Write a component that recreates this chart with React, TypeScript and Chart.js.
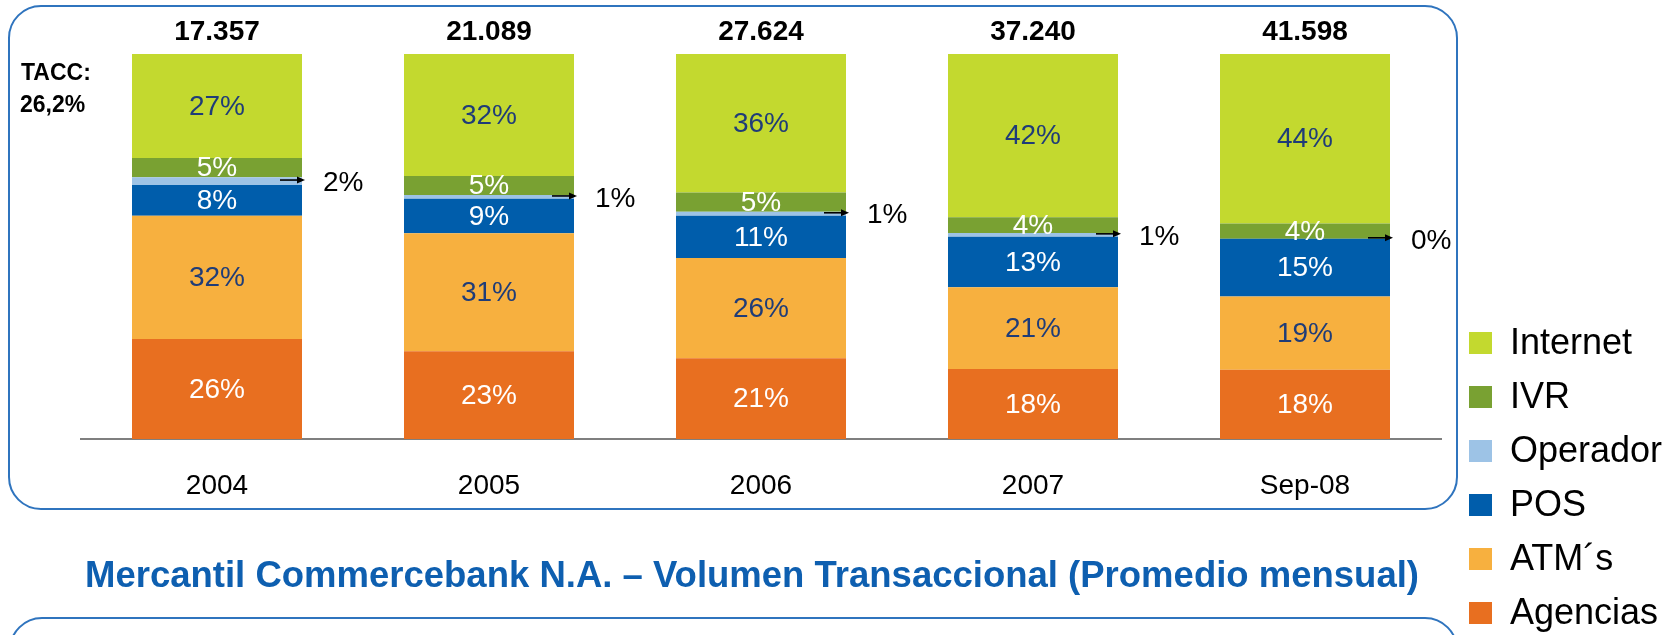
import React, { useEffect, useRef } from "react";
import { Chart, registerables } from "chart.js";

Chart.register(...registerables);

const categories = ["2004", "2005", "2006", "2007", "Sep-08"];
const totals = [17357, 21089, 27624, 37240, 41598];
const seriesNames = ["Agencias", "ATM´s", "POS", "Operador", "IVR", "Internet"];
const agencias = [26, 23, 21, 18, 18];
const atms = [32, 31, 26, 21, 19];
const pos = [8, 9, 11, 13, 15];
const operador = [2, 1, 1, 1, 0];
const ivr = [5, 5, 5, 4, 4];
const internet = [27, 32, 36, 42, 44];
const seriesColors = ["#E86F20", "#F7B03F", "#005DAB", "#9DC3E6", "#79A132", "#C3D92F"];
const labelColors = ["#FFFFFF", "#1F3C78", "#FFFFFF", "#000000", "#FFFFFF", "#1F3C78"];
const growthText = ["TACC:", "26,2%"];
const titleText = "Mercantil Commercebank N.A. – Volumen Transaccional (Promedio mensual)";

const FONT = '"Liberation Sans", Arial, sans-serif';
const seriesValues = [agencias, atms, pos, operador, ivr, internet];
const columnSums = categories.map((_, i) => seriesValues.reduce((s, arr) => s + arr[i], 0));

const fmtTotal = (n: number) => n.toLocaleString("de-DE");

const decorPlugin = {
  id: "decor",
  beforeDraw(chart: any) {
    const ctx = chart.ctx;
    ctx.save();
    ctx.fillStyle = "#FFFFFF";
    ctx.fillRect(0, 0, chart.width, chart.height);
    ctx.strokeStyle = "#2F74BE";
    ctx.lineWidth = 2;
    ctx.beginPath();
    ctx.roundRect(9, 6, 1448, 503, 32);
    ctx.stroke();
    ctx.beginPath();
    ctx.roundRect(10, 618, 1447, 120, 32);
    ctx.stroke();
    ctx.restore();
  },
  afterDatasetsDraw(chart: any) {
    const ctx = chart.ctx;
    ctx.save();
    const metas = chart.data.datasets.map((_: any, d: number) => chart.getDatasetMeta(d));
    // segment labels
    ctx.font = `28px ${FONT}`;
    ctx.textAlign = "center";
    ctx.textBaseline = "middle";
    metas.forEach((meta: any, d: number) => {
      if (seriesNames[d] === "Operador") return;
      meta.data.forEach((el: any, i: number) => {
        const p = el.getProps(["x", "y", "base"], true);
        ctx.fillStyle = labelColors[d];
        ctx.fillText(`${seriesValues[d][i]}%`, p.x, (p.y + p.base) / 2 + 1);
      });
    });
    // Operador arrows
    const opIdx = seriesNames.indexOf("Operador");
    metas[opIdx].data.forEach((el: any, i: number) => {
      const p = el.getProps(["x", "y", "base", "width"], true);
      const right = p.x + p.width / 2;
      const cy = (p.y + p.base) / 2;
      const ay = cy - 1;
      ctx.strokeStyle = "#000";
      ctx.fillStyle = "#000";
      ctx.lineWidth = 1.6;
      ctx.beginPath();
      ctx.moveTo(right - 22, ay);
      ctx.lineTo(right - 4, ay);
      ctx.stroke();
      ctx.beginPath();
      ctx.moveTo(right + 3, ay);
      ctx.lineTo(right - 5, ay - 3.5);
      ctx.lineTo(right - 5, ay + 3.5);
      ctx.closePath();
      ctx.fill();
      ctx.font = `28px ${FONT}`;
      ctx.textAlign = "left";
      ctx.textBaseline = "middle";
      ctx.fillText(`${operador[i]}%`, right + 21, cy + 2);
    });
    // totals
    ctx.font = `bold 28px ${FONT}`;
    ctx.textAlign = "center";
    ctx.textBaseline = "alphabetic";
    ctx.fillStyle = "#000";
    metas[0].data.forEach((el: any, i: number) => {
      ctx.fillText(fmtTotal(totals[i]), el.x, 40);
    });
    ctx.restore();
  },
  afterDraw(chart: any) {
    const ctx = chart.ctx;
    ctx.save();
    ctx.fillStyle = "#000";
    ctx.font = `bold 23px ${FONT}`;
    ctx.textAlign = "left";
    ctx.textBaseline = "alphabetic";
    ctx.fillText(growthText[0], 21, 80);
    ctx.fillText(growthText[1], 20, 112);
    // title
    ctx.fillStyle = "#0E5FB0";
    ctx.font = `bold 36.5px ${FONT}`;
    ctx.textAlign = "center";
    ctx.fillText(titleText, 752, 587);
    // legend
    ctx.textAlign = "left";
    ctx.textBaseline = "middle";
    ctx.font = `36px ${FONT}`;
    const order = [...seriesNames.keys()].reverse();
    order.forEach((d, k) => {
      const top = 332 + k * 54;
      ctx.fillStyle = seriesColors[d];
      ctx.fillRect(1469, top, 23, 22);
      ctx.fillStyle = "#000";
      ctx.fillText(seriesNames[d], 1510, top + 12);
    });
    ctx.restore();
  },
};

export default function App() {
  const ref = useRef<HTMLCanvasElement>(null);
  useEffect(() => {
    if (!ref.current) return;
    const chart = new Chart(ref.current, {
      type: "bar",
      data: {
        labels: categories,
        datasets: seriesNames.map((name, d) => ({
          label: name,
          data: seriesValues[d].map((v, i) => (v / columnSums[i]) * 100),
          backgroundColor: seriesColors[d],
          borderWidth: 0,
          barPercentage: 0.625,
          categoryPercentage: 1,
        })),
      },
      options: {
        animation: false,
        responsive: false,
        events: [],
        layout: { padding: { left: 81, right: 237, top: 54, bottom: 102.4 } },
        plugins: { legend: { display: false }, tooltip: { enabled: false } },
        scales: {
          x: {
            stacked: true,
            grid: { display: false, drawTicks: false },
            border: { display: true, color: "#7F7F7F", width: 2 },
            ticks: { color: "#000", font: { family: FONT, size: 28 }, padding: 30 },
          },
          y: { stacked: true, min: 0, max: 100, display: false },
        },
      },
      plugins: [decorPlugin],
    });
    return () => chart.destroy();
  }, []);
  return (
    <div style={{ position: "absolute", left: 0, top: 0, width: 1678, height: 635 }}>
      <canvas ref={ref} width={1678} height={635} />
    </div>
  );
}
